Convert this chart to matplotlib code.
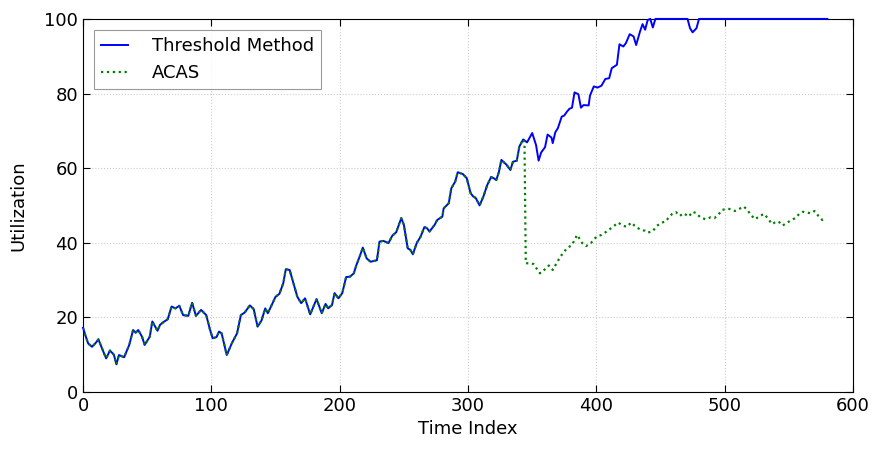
import matplotlib
matplotlib.use("Agg")
import matplotlib.pyplot as plt
import numpy as np

# shared part: both methods follow the same path until ACAS kicks in
t_shared = [0, 2, 4, 7, 10, 12, 15, 18, 21, 24, 26, 28, 32, 36, 39, 41, 43, 46, 48,
            52, 54, 58, 60, 63, 66, 69, 72, 75, 78, 82, 85, 88, 92, 96, 99, 101, 104,
            106, 108, 112, 116, 120, 123, 126, 130, 133, 136, 139, 142, 144, 147, 150,
            153, 156, 158, 161, 164, 167, 170, 173, 177, 182, 186, 189, 191, 194, 196,
            199, 202, 205, 208, 211, 213, 216, 218, 221, 224, 229, 231, 234, 238, 241,
            244, 248, 250, 253, 255, 257, 260, 263, 266, 268, 270, 274, 276, 280, 281,
            285, 287, 290, 292, 296, 299, 302, 304, 306, 309, 312, 315, 318, 320, 322,
            324, 326, 330, 333, 335, 338, 340, 343]
util_shared = [17.2, 15.0, 13.0, 12.1, 13.2, 14.1, 11.5, 9.0, 11.1, 10.0, 7.4, 9.9, 9.3,
               12.6, 16.6, 15.9, 16.6, 14.8, 12.6, 14.8, 18.9, 16.4, 18.0, 18.8, 19.5,
               22.9, 22.4, 23.1, 20.6, 20.4, 23.9, 20.4, 22.0, 20.6, 16.6, 14.4, 14.7,
               16.2, 15.7, 9.9, 13.1, 15.7, 20.6, 21.3, 23.2, 22.2, 17.5, 19.1, 22.4,
               21.1, 23.3, 25.5, 26.3, 29.1, 32.9, 32.7, 29.1, 25.5, 23.8, 25.1, 20.8,
               24.9, 21.1, 23.6, 22.4, 23.3, 26.5, 25.1, 26.5, 30.8, 30.9, 31.8, 34.0,
               36.7, 38.7, 35.8, 34.9, 35.3, 40.3, 40.5, 39.9, 41.9, 42.8, 46.6, 44.8,
               38.5, 38.1, 36.9, 39.9, 41.6, 44.2, 43.9, 43.0, 44.8, 46.1, 47.0, 49.2,
               50.6, 54.6, 56.4, 58.9, 58.4, 57.3, 53.3, 52.4, 52.0, 50.0, 52.4, 55.5,
               57.6, 57.3, 56.8, 58.9, 62.2, 60.9, 59.5, 61.7, 62.0, 65.8, 67.7]

# threshold method after the split
t_thresh = [346, 350, 353, 355, 357, 360, 362, 365, 366, 368, 370, 373, 375, 377, 379,
            381, 383, 386, 388, 390, 394, 395, 398, 401, 404, 407, 410, 412, 416, 418,
            421, 423, 426, 429, 431, 434, 436, 438, 440, 442, 444, 446, 471, 473, 475,
            478, 480, 580]
util_thresh = [66.9, 69.4, 66.2, 62.0, 64.2, 65.6, 69.0, 68.2, 66.7, 69.6, 70.7, 73.8,
               74.1, 75.1, 75.9, 76.2, 80.3, 79.8, 76.2, 76.9, 76.8, 79.4, 81.9, 81.6,
               82.1, 83.9, 84.1, 86.8, 87.7, 93.2, 92.6, 93.5, 95.9, 95.3, 93.0, 96.6,
               98.6, 97.1, 99.7, 100, 97.7, 100, 100, 97.5, 96.4, 97.5, 100, 100]

# ACAS after the split
t_acas = [344, 345, 348, 351, 356, 360, 363, 366, 372, 377, 381, 385, 389, 392, 396,
          400, 404, 408, 413, 417, 421, 424, 427, 431, 435, 438, 440, 444, 447, 451,
          454, 456, 459, 462, 465, 468, 472, 475, 478, 481, 485, 489, 492, 495, 498,
          502, 505, 508, 512, 515, 518, 521, 524, 527, 531, 534, 537, 539, 542, 545,
          548, 552, 555, 558, 561, 564, 567, 570, 573, 576, 578]
util_acas = [66.5, 34.5, 34.5, 34.3, 31.8, 32.9, 33.9, 32.7, 36.3, 38.5, 39.4, 42.1,
             39.9, 39.1, 40.0, 41.6, 42.1, 43.0, 44.3, 45.4, 44.5, 44.3, 45.4, 44.2,
             43.4, 43.2, 42.7, 43.1, 44.5, 45.4, 45.7, 46.6, 47.7, 48.2, 47.2, 47.9,
             47.0, 48.3, 47.9, 46.8, 46.3, 46.8, 46.6, 47.5, 48.8, 49.1, 49.0, 48.5,
             49.2, 49.7, 48.6, 47.2, 46.3, 47.2, 47.7, 46.3, 45.0, 45.4, 45.7, 44.6,
             45.2, 46.1, 46.6, 47.7, 48.3, 48.1, 47.9, 48.5, 47.2, 46.1, 46.8]

x_thr = np.array(t_shared + t_thresh)
y_thr = np.array(util_shared + util_thresh)
x_acas = np.array(t_shared + t_acas)
y_acas = np.array(util_shared + util_acas)

fig = plt.figure(figsize=(8.74, 4.5), dpi=100)
ax = fig.add_axes([0.095, 0.129, 0.881, 0.829])

# not clipped, so the stretch sitting at 100 shows over the top spine
ax.plot(x_thr, y_thr, color="b", lw=1.4, label="Threshold Method", zorder=3,
        clip_on=False)
ax.plot(x_acas, y_acas, color="g", lw=1.6, ls=":", label="ACAS", zorder=3)

ax.set_xlim(0, 600)
ax.set_ylim(0, 100)
ax.set_xticks(np.arange(0, 601, 100))
ax.set_yticks(np.arange(0, 101, 20))
ax.grid(True, color="#cccccc", ls=":", lw=0.8)
ax.tick_params(direction="in", top=True, right=True, labelsize=13, length=5)
ax.set_xlabel("Time Index", fontsize=13)
ax.set_ylabel("Utilization", fontsize=13, labelpad=12)

leg = ax.legend(loc="upper left", fontsize=13, fancybox=False, edgecolor="gray",
                handlelength=1.5, handletextpad=1.3, borderpad=0.4,
                borderaxespad=0.6)
leg.get_frame().set_linewidth(0.8)

fig.savefig("out.png")
